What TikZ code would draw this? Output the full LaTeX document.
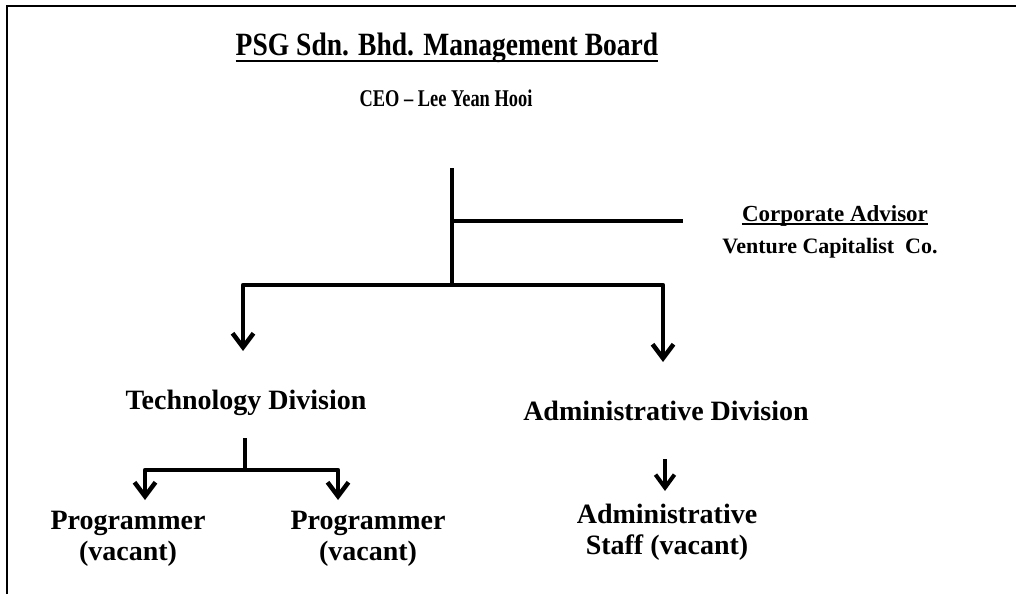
\documentclass[tikz,border=0pt]{standalone}
\usepackage{fontspec}
\usepackage{graphicx}
\setmainfont{Liberation Serif}
\usetikzlibrary{arrows.meta,calc}
\begin{document}
\begin{tikzpicture}[x=1pt,y=-1pt,
  lbl/.style={font=\bfseries\fontsize{28}{31}\selectfont, align=center, inner sep=0pt},
  small/.style={font=\bfseries\fontsize{22}{28}\selectfont, align=center, inner sep=0pt},
  conn/.style={line width=4.5pt, line join=round},
  arr/.style={conn, -{Straight Barb[length=14pt,width=21pt,line width=4.5pt]}},
  sarr/.style={line width=4pt, -{Straight Barb[length=13pt,width=19pt,line width=4pt]}},
  frame/.style={line width=2pt},
]
\useasboundingbox (0,0) rectangle (1016,594);

% page frame (top and left edges only)
\coordinate (fr1) at (7,594);
\coordinate (fr2) at (7,6);
\coordinate (fr3) at (1016,6);
\draw[frame] (fr1) -- (fr2) -- (fr3);

% headings
\node[lbl, anchor=base] (title) at (447,56)
  {\scalebox{0.95}[1.12]{\fontsize{29}{32}\selectfont PSG Sdn. Bhd. Management Board}};
\draw[line width=2.5pt] ($(title.base west)+(0,5)$) -- ($(title.base east)+(0,5)$);
\node[small, anchor=base] (ceo) at (446,106)
  {\scalebox{0.92}[1.2]{\fontsize{20}{24}\selectfont CEO -- Lee Yean Hooi}};

% advisor
\node[small, anchor=base] (adv) at (835,221) {\fontsize{23}{28}\selectfont Corporate Advisor};
\draw[line width=1.5pt] ($(adv.base west)+(0,3)$) -- ($(adv.base east)+(0,3)$);
\node[small, anchor=base] (vc) at (830,253) {Venture Capitalist\ \ Co.};

% divisions
\node[lbl, anchor=base] (tech) at (246,409) {Technology Division};
\node[lbl, anchor=base] (admin) at (666,420) {Administrative Division};

% staff (base anchor sits on the last line)
\node[lbl, anchor=base] (prog1) at (128,560) {Programmer\\(vacant)};
\node[lbl, anchor=base] (prog2) at (368,560) {Programmer\\(vacant)};
\node[lbl, anchor=base] (staff) at (667,554) {Administrative\\Staff (vacant)};

% junction points of the main tree
\coordinate (top) at (452,168);
\coordinate (mid) at (452,221);
\coordinate (advend) at (683,221);
\coordinate (hub) at (452,285);
\coordinate (techtip) at (243,351);
\coordinate (admintip) at (663,362);

\draw[conn] (top) -- (hub);
\draw[conn] (mid) -- (advend);
\draw[arr] (hub) -| (techtip);
\draw[arr] (hub) -| (admintip);

% technology division branch
\coordinate (tstem) at (245,438);
\coordinate (tjoin) at (245,470);
\coordinate (p1tip) at (145,500);
\coordinate (p2tip) at (338,500);
\draw[conn] (tstem) -- (tjoin);
\draw[arr] (tjoin) -| (p1tip);
\draw[arr] (tjoin) -| (p2tip);

% administrative division branch
\coordinate (astem) at (665,459);
\coordinate (atip) at (665,491);
\draw[sarr] (astem) -- (atip);
\end{tikzpicture}
\end{document}
